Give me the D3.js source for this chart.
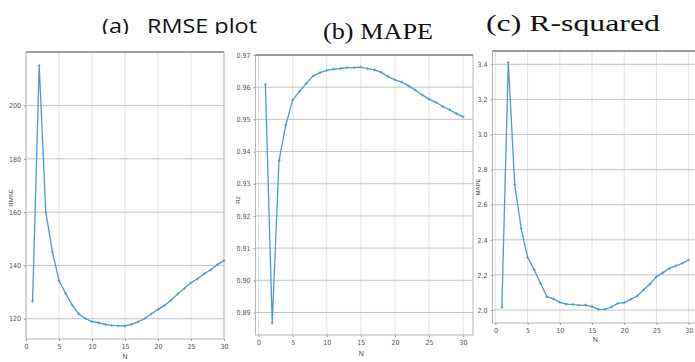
<!DOCTYPE html>
<html>
<head>
<meta charset="utf-8">
<script src="https://cdn.jsdelivr.net/npm/d3@7"></script>
<style>
  body { margin: 0; background: #fff; }
  svg { display: block; }
  .tick text { font-family: "Liberation Sans Narrow", "DejaVu Sans Condensed", sans-serif; font-size: 7px; fill: #555; }
</style>
</head>
<body>
<div id="chart"></div>
<script>
// N values shared by all three panels
const nValues = d3.range(1, 31);

// RMSE per N (panel a)
const rmseValues = [126.6, 215.1, 159.9, 145.1, 134.3, 129.5, 125.1, 121.8, 120.1, 118.9,
    118.5, 117.9, 117.5, 117.4, 117.3, 117.9, 118.8, 120.1, 121.8, 123.5,
    125.0, 127.0, 129.3, 131.4, 133.5, 135.0, 136.9, 138.4, 140.3, 141.8];

// R2 per N (panel b)
const r2Values = [0.9609, 0.8867, 0.9372, 0.9483, 0.9560, 0.9587, 0.9612, 0.9635, 0.9645, 0.9652,
    0.9656, 0.9658, 0.9661, 0.9661, 0.9662, 0.9658, 0.9654, 0.9646, 0.9633, 0.9623,
    0.9616, 0.9604, 0.9591, 0.9576, 0.9563, 0.9553, 0.9540, 0.9530, 0.9518, 0.9508];

// MAPE per N (panel c)
const mapeValues = [2.015, 3.41, 2.715, 2.465, 2.30, 2.23, 2.152, 2.076, 2.063, 2.044,
    2.034, 2.032, 2.027, 2.028, 2.019, 2.004, 2.004, 2.017, 2.038, 2.042,
    2.061, 2.080, 2.114, 2.148, 2.190, 2.213, 2.237, 2.252, 2.266, 2.285];

// Tick labels
const xTicks = [0, 5, 10, 15, 20, 25, 30];
const rmseTicks = [120, 140, 160, 180, 200];
const r2Ticks = [0.89, 0.90, 0.91, 0.92, 0.93, 0.94, 0.95, 0.96, 0.97];
const mapeTicks = [2.0, 2.2, 2.4, 2.6, 2.8, 3.0, 3.2, 3.4];

const svg = d3.select("#chart").append("svg")
    .attr("width", 695)
    .attr("height", 362);

const lineColor = "#5197cf";

function drawPanel(p) {
    const x = d3.scaleLinear().domain(p.xDomain).range([p.left, p.right]);
    const y = d3.scaleLinear().domain(p.yDomain).range([p.bottom, p.top]);

    const g = svg.append("g");

    // grid lines
    g.selectAll(".vgrid")
        .data(xTicks)
        .enter().append("line")
        .attr("x1", d => x(d)).attr("x2", d => x(d))
        .attr("y1", p.top).attr("y2", p.bottom)
        .attr("stroke", "#e2e2e2").attr("stroke-width", 1);

    g.selectAll(".hgrid")
        .data(p.yTicks)
        .enter().append("line")
        .attr("x1", p.left).attr("x2", p.right)
        .attr("y1", d => y(d)).attr("y2", d => y(d))
        .attr("stroke", "#c4c4c4").attr("stroke-width", 1);

    // frame
    g.append("rect")
        .attr("x", p.left).attr("y", p.top)
        .attr("width", p.right - p.left).attr("height", p.bottom - p.top)
        .attr("fill", "none").attr("stroke", "#b5b5b5");

    g.append("line")
        .attr("x1", p.left).attr("x2", p.right)
        .attr("y1", p.top).attr("y2", p.top)
        .attr("stroke", "#8a8a8a").attr("stroke-width", 1.5);

    // axes
    const xAxis = g.append("g")
        .attr("transform", `translate(0,${p.bottom})`)
        .call(d3.axisBottom(x).tickValues(xTicks).tickSize(2).tickFormat(d3.format("d")));

    const yAxis = g.append("g")
        .attr("transform", `translate(${p.left},0)`)
        .call(d3.axisLeft(y).tickValues(p.yTicks).tickSize(2).tickFormat(p.yFormat));

    [xAxis, yAxis].forEach(a => {
        a.select(".domain").remove();
        a.selectAll(".tick line").attr("stroke", "#999");
    });

    // line + markers
    const data = nValues.map((n, i) => [n, p.values[i]]);
    const line = d3.line()
        .x(d => x(d[0]))
        .y(d => y(d[1]));

    g.append("path")
        .datum(data)
        .attr("d", line)
        .attr("fill", "none")
        .attr("stroke", lineColor)
        .attr("stroke-width", 1.3);

    g.selectAll(".mark")
        .data(data)
        .enter().append("path")
        .attr("d", d => {
            const cx = x(d[0]), cy = y(d[1]);
            return `M${cx - 1.5},${cy}L${cx + 1.5},${cy}M${cx},${cy - 1.5}L${cx},${cy + 1.5}`;
        })
        .attr("stroke", lineColor)
        .attr("stroke-width", 0.8);

    // axis labels
    g.append("text")
        .attr("x", (p.left + p.right) / 2 + p.nShift)
        .attr("y", p.bottom + p.nDrop)
        .attr("text-anchor", "middle")
        .style("font-family", "Liberation Sans Narrow, sans-serif")
        .style("font-size", "7px")
        .style("fill", "#444")
        .text("N");

    g.append("text")
        .attr("transform", `translate(${p.yLabelX},${p.yLabelY}) rotate(-90)`)
        .attr("text-anchor", "middle")
        .style("font-family", "Liberation Sans Narrow, sans-serif")
        .style("font-size", "6px")
        .style("fill", "#444")
        .text(p.yLabel);
}

// (a) RMSE panel
drawPanel({
    left: 26, right: 224, top: 52, bottom: 339,
    xDomain: [0, 30], yDomain: [112.4, 220.1],
    values: rmseValues, yTicks: rmseTicks, yFormat: d3.format("d"),
    yLabel: "RMSE", yLabelX: 13, yLabelY: 198, nShift: 0, nDrop: 20
});

// (b) R2 panel
drawPanel({
    left: 255.5, right: 473, top: 55, bottom: 335,
    xDomain: [-0.45, 31.45], yDomain: [0.883, 0.97],
    values: r2Values, yTicks: r2Ticks, yFormat: d3.format(".2f"),
    yLabel: "R2", yLabelX: 240, yLabelY: 200, nShift: -3, nDrop: 21
});

// (c) MAPE panel
drawPanel({
    left: 492.5, right: 698, top: 51, bottom: 323,
    xDomain: [-0.45, 31.45], yDomain: [1.926, 3.476],
    values: mapeValues, yTicks: mapeTicks, yFormat: d3.format(".1f"),
    yLabel: "MAPE", yLabelX: 480, yLabelY: 187, nShift: 0, nDrop: 19
});

// titles
svg.append("clipPath").attr("id", "clipA")
    .append("rect").attr("x", 0).attr("y", 0).attr("width", 300).attr("height", 34);

svg.append("text")
    .attr("clip-path", "url(#clipA)")
    .attr("x", 102).attr("y", 33)
    .attr("textLength", 155).attr("lengthAdjust", "spacingAndGlyphs")
    .style("white-space", "pre")
    .style("font-family", "Open Sans, sans-serif")
    .style("font-size", "20px")
    .style("fill", "#111")
    .text("(a)   RMSE plot");

svg.append("text")
    .attr("x", 323).attr("y", 38.5)
    .attr("textLength", 110).attr("lengthAdjust", "spacingAndGlyphs")
    .style("font-family", "Liberation Serif, serif")
    .style("font-size", "23px")
    .style("fill", "#111")
    .text("(b) MAPE");

svg.append("text")
    .attr("x", 486).attr("y", 30.5)
    .attr("textLength", 174).attr("lengthAdjust", "spacingAndGlyphs")
    .style("font-family", "Liberation Serif, serif")
    .style("font-size", "23px")
    .style("fill", "#111")
    .text("(c) R-squared");
</script>
</body>
</html>
